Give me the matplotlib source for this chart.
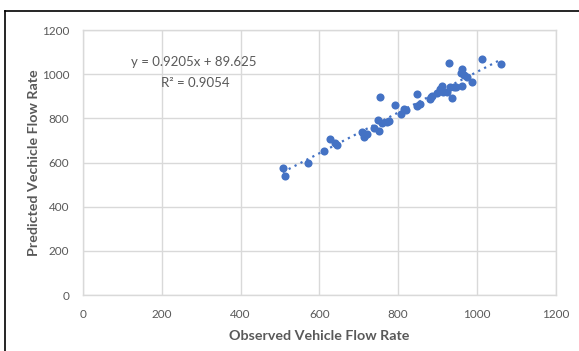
import numpy as np
import matplotlib
matplotlib.use("Agg")
import matplotlib.pyplot as plt
from matplotlib.lines import Line2D

# observed vs predicted vehicle flow rates
observed = [507, 513, 571, 611, 626, 640, 645, 708, 712, 715, 714, 721, 740, 752,
            750, 753, 759, 772, 778, 793, 807, 814, 820, 848, 856, 849, 881, 886,
            883, 898, 907, 911, 915, 924, 928, 932, 937, 941, 947, 959, 962, 962,
            966, 975, 987, 1014, 1062]
predicted = [574, 539, 599, 652, 706, 690, 680, 737, 732, 723, 717, 730, 755, 744,
             793, 895, 780, 785, 790, 860, 820, 841, 838, 856, 865, 910, 886, 901,
             895, 916, 932, 947, 921, 921, 1049, 941, 891, 943, 944, 1004, 1022, 947,
             996, 986, 966, 1069, 1045]

slope = 0.9205
intercept = 89.625
r_squared = 0.9054

ticks = [0, 200, 400, 600, 800, 1000, 1200]

blue = "#4472C4"
grey_text = "#595959"
grid_col = "#D9D9D9"

plt.rcParams['font.family'] = ['Lato', 'DejaVu Sans']

fig = plt.figure(figsize=(5.79, 3.51), dpi=100)
ax = fig.add_axes([0.1434, 0.1595, 0.8163, 0.755])

ax.scatter(observed, predicted, s=34, color=blue, zorder=3, linewidths=0)

xs = np.array([min(observed), max(observed)])
ax.plot(xs, slope * xs + intercept, linestyle=(0, (1, 2)), color=blue,
        linewidth=1.6, zorder=2)

ax.text(282, 1055, f"y = {slope}x + {intercept}", fontsize=9.5, color=grey_text,
        ha="center", va="center")
ax.text(284, 960, f"R² = {r_squared}", fontsize=9.5, color=grey_text,
        ha="center", va="center")

ax.set_xlim(0, 1200)
ax.set_ylim(0, 1200)
ax.set_xticks(ticks)
ax.set_yticks(ticks)
ax.tick_params(length=0, labelsize=8.5, labelcolor=grey_text, pad=10)
ax.grid(True, color=grid_col, linewidth=1)
ax.set_axisbelow(True)
for side in ax.spines.values():
    side.set_color(grid_col)
    side.set_linewidth(1)

ax.set_xlabel("Observed Vehicle Flow Rate", fontsize=10.3, fontweight="bold",
              color=grey_text, labelpad=7)
ax.set_ylabel("Predicted Vechicle Flow Rate", fontsize=10.3, fontweight="bold",
              color=grey_text, labelpad=1)

# chart frame edges (top and left)
fig.add_artist(Line2D([5 / 579, 1], [1 - 11 / 351, 1 - 11 / 351], color="black",
                      linewidth=1.2, transform=fig.transFigure))
fig.add_artist(Line2D([5 / 579, 5 / 579], [0, 1 - 11 / 351], color="black",
                      linewidth=1.2, transform=fig.transFigure))

fig.savefig("out.png", dpi=100)
